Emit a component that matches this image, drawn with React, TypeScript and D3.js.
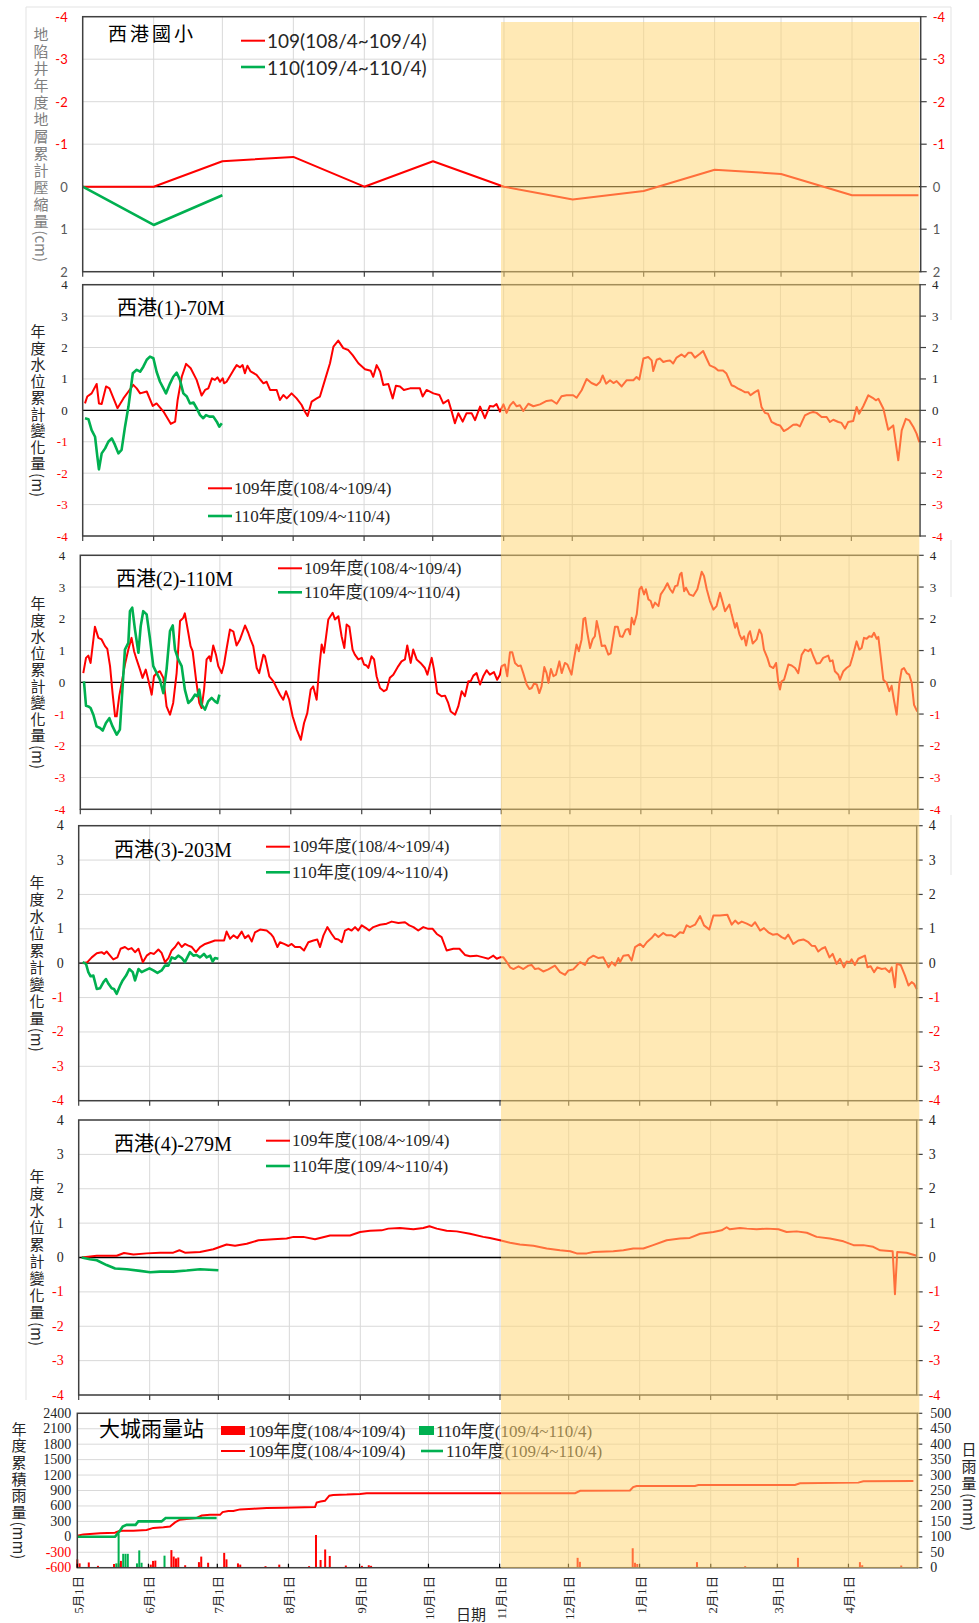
import React from "react";
import * as d3 from "d3";

// ---- data (day = days since 2019-05-01) ----
const monthLabels = ["5月1日", "6月1日", "7月1日", "8月1日", "9月1日", "10月1日", "11月1日", "12月1日", "1月1日", "2月1日", "3月1日", "4月1日"];
const legend109 = "109年度(108/4~109/4)";
const legend110 = "110年度(109/4~110/4)";

const p1Red = [[0, 0], [31, 0], [61, -0.6], [92, -0.7], [123, 0], [153, -0.6], [184, 0], [214, 0.3], [245, 0.1], [276, -0.4], [305, -0.3], [336, 0.2], [365, 0.2]];
const p1Green = [[0, 0], [31, 0.9], [61, 0.2]];

const m70Red = [[1, 0.22], [2, 0.44], [3.9, 0.54], [6.1, 0.84], [7.1, 0.22], [8.3, 0.2], [10.2, 0.76], [11.7, 0.7], [15.2, 0.07], [17.8, 0.38], [20, 0.6], [22.1, 0.81], [23.6, 0.7], [25.1, 0.54], [28, 0.6], [30.6, 0.14], [32.3, 0.22], [35.3, -0.04], [38.5, -0.43], [40.4, -0.36], [41.5, 0.33], [43.3, 1.07], [45.2, 1.48], [47.2, 1.34], [49.8, 0.97], [52, 0.47], [53.5, 0.65], [54.9, 0.7], [56.5, 1.02], [57.8, 0.97], [58.9, 1.05], [60, 0.91], [61.2, 1.02], [61.8, 0.86], [62.9, 0.91], [65.9, 1.28], [67.3, 1.44], [68.8, 1.37], [69.9, 1.44], [70.9, 1.18], [72, 1.42], [73.4, 1.24], [76, 1.13], [77.5, 0.99], [79, 0.86], [80.4, 0.91], [81.9, 0.65], [84.8, 0.65], [86.2, 0.33], [87.7, 0.49], [89.2, 0.38], [91.3, 0.54], [93.5, 0.38], [95.7, 0.17], [96.7, 0.01], [98.3, -0.18], [100.1, 0.28], [102.3, 0.38], [103.7, 0.44], [105.9, 0.97], [108.1, 1.5], [109.6, 2.03], [111.7, 2.22], [113.9, 1.98], [116.1, 1.92], [118, 1.76], [120.5, 1.5], [123.4, 1.31], [125.9, 1.26], [127, 1.07], [128.5, 1.44], [130, 1.24], [131.4, 0.81], [133.6, 0.84], [135.5, 0.38], [136.9, 0.78], [138.7, 0.76], [140.4, 0.65], [143.1, 0.7], [147.4, 0.7], [148.6, 0.44], [150.3, 0.65], [153.3, 0.54], [155.9, 0.49], [157.6, 0.22], [159.8, 0.33], [161.3, -0.04], [162.7, -0.41], [164.2, -0.09], [166.1, -0.36], [167.8, -0.09], [170, -0.09], [171.5, -0.31], [173.7, 0.12], [175.8, -0.25], [178, 0.14], [179.5, 0.12], [180.9, 0.2], [182.4, -0.04], [183.9, 0.19], [185.3, -0.08], [186.8, 0.16], [188.2, 0.27], [189.7, 0.13], [191.1, 0.16], [192.6, -0.02], [194.8, 0.21], [197, 0.13], [199.9, 0.19], [202.8, 0.3], [205, 0.32], [207.2, 0.21], [209.3, 0.45], [211.5, 0.48], [214.4, 0.48], [215.9, 0.4], [218.1, 0.64], [220.3, 1.0], [222.4, 0.87], [224.6, 0.8], [226.1, 0.9], [227.3, 1.11], [228.8, 0.85], [230.5, 0.96], [232, 0.87], [233.4, 0.93], [235.6, 0.76], [237.8, 0.96], [240.7, 0.96], [242.1, 1.06], [243.3, 0.98], [245.1, 1.65], [247.2, 1.7], [248.7, 1.59], [249.4, 1.25], [250.9, 1.61], [252.3, 1.65], [253.8, 1.54], [255.2, 1.57], [256.7, 1.59], [258.1, 1.49], [259.6, 1.68], [261.8, 1.78], [263.2, 1.7], [264.7, 1.83], [266.1, 1.83], [267.6, 1.68], [269.8, 1.8], [271.2, 1.89], [272.7, 1.65], [274.1, 1.43], [276.3, 1.36], [277.8, 1.27], [279.9, 1.27], [281.4, 1.17], [283.6, 0.8], [285, 0.76], [286.5, 0.69], [288, 0.64], [289.4, 0.58], [290.9, 0.58], [291.9, 0.48], [293.8, 0.58], [295.3, 0.64], [296.7, 0.11], [298.2, -0.08], [299.6, -0.11], [301.1, -0.37], [303.3, -0.45], [304.8, -0.48], [306.5, -0.66], [308.4, -0.58], [310.6, -0.46], [312, -0.45], [313.5, -0.51], [315.7, -0.16], [317.9, -0.08], [319.3, -0.05], [320.8, -0.08], [323, -0.21], [325.2, -0.21], [326.6, -0.37], [328.1, -0.3], [330.3, -0.37], [331.7, -0.4], [333.2, -0.58], [334.6, -0.37], [336.8, -0.34], [338.3, 0.11], [339.4, -0.11], [341.2, 0.13], [343.4, 0.48], [345.3, 0.4], [346.7, 0.32], [347.8, 0.37], [350, 0.05], [352.1, -0.62], [354.3, -0.48], [356.5, -1.59], [358, -0.64], [359.8, -0.27], [361.3, -0.32], [363.1, -0.53], [364.5, -0.74], [365.7, -1.01]];
const m70Green = [[1, -0.25], [2.5, -0.28], [3.9, -0.63], [5.4, -0.84], [6.4, -1.47], [7.1, -1.88], [8.3, -1.37], [9.8, -1.21], [11.2, -1.0], [12.7, -0.89], [14.1, -1.1], [15.6, -1.37], [17, -1.26], [18.5, -0.52], [20, 0.12], [21.9, 1.18], [23.6, 1.29], [25.1, 1.23], [26.5, 1.39], [28, 1.61], [29.4, 1.71], [30.9, 1.66], [32.3, 1.23], [33.8, 0.91], [35.3, 0.7], [36.4, 0.54], [38.2, 0.86], [39.6, 1.07], [41.1, 1.2], [42.5, 0.97], [44, 0.54], [45.5, 0.44], [46.9, 0.22], [48.4, 0.25], [49.8, 0.07], [51.3, -0.15], [52.7, -0.25], [53.9, -0.15], [55.4, -0.2], [57.1, -0.2], [58.6, -0.36], [59.7, -0.52], [60.8, -0.41]];

const m110Red = [[1.3, 0.29], [2.5, 0.77], [3.5, 0.84], [4.5, 0.61], [6.4, 1.75], [7.9, 1.4], [9.3, 1.35], [10.8, 1.14], [11.8, 1.05], [13, 0.51], [14.1, -0.34], [15.2, -1.07], [15.9, -1.07], [17, -0.44], [18.1, -0.02], [19.5, 0.56], [21, 1.03], [22.4, 1.4], [23.5, 0.98], [24.6, 0.72], [26.1, 0.4], [27.2, 0.14], [28.6, 0.4], [29.7, 0.08], [31.2, -0.39], [32.2, 0.19], [33.4, 0.29], [34.8, 0.35], [36.3, 0.14], [37.7, -0.76], [39.2, -1.02], [40.6, -0.65], [42.1, 0.29], [43.6, 1.93], [45, 2.03], [45.7, 2.17], [47.2, 1.56], [48.2, 1.14], [49.1, 0.98], [50.6, 0.08], [52, -0.65], [53, -0.81], [54.1, -0.23], [55.2, 0.72], [56.4, 0.82], [57, 0.66], [58.1, 1.16], [59.3, 0.87], [60.3, 0.51], [61.8, 0.29], [62.8, 0.56], [64, 1.08], [65.4, 1.66], [66.9, 1.6], [68.3, 1.16], [69.8, 1.35], [72, 1.79], [73.4, 1.56], [74.4, 1.35], [75.6, 1.14], [77.1, 0.45], [78.2, 0.29], [80, 0.87], [80.7, 0.82], [82.6, 0.19], [84.4, 0.03], [85.8, -0.18], [87.3, -0.39], [88.7, -0.55], [89.9, -0.28], [91.3, -0.55], [92.8, -1.07], [94.6, -1.49], [96.4, -1.81], [97.8, -1.28], [99.2, -0.97], [100.7, -0.23], [101.8, -0.13], [103.3, -0.55], [104.3, 0.35], [105.5, 1.19], [106.5, 0.93], [108.4, 1.98], [110.3, 2.19], [111.3, 1.98], [112.8, 2.08], [114.2, 1.45], [115.4, 1.08], [116.4, 1.82], [117.6, 1.75], [119, 1.03], [120, 0.87], [121.5, 0.72], [123, 0.77], [124, 0.56], [125.1, 0.53], [125.9, 0.45], [127.3, 0.82], [128.4, 0.72], [129.5, 0.19], [131, -0.18], [132.7, -0.28], [133.9, -0.23], [135.3, 0.14], [136.8, 0.24], [139, 0.51], [140.4, 0.66], [141.9, 0.72], [142.9, 1.16], [144.4, 0.61], [145.5, 1.03], [147, 0.72], [148.7, 0.61], [150.6, 0.45], [151.7, 0.24], [153.6, 0.77], [154.6, 0.4], [156, -0.34], [157.9, -0.44], [159.4, -0.42], [160.8, -0.65], [161.9, -0.92], [163.8, -1.02], [165.2, -0.76], [166.7, -0.28], [168.1, -0.44], [169.6, 0.03], [170.6, 0.03], [171.8, 0.21], [173.2, 0.29], [174.7, -0.07], [176.1, 0.19], [177.6, 0.38], [179, 0.24], [180.8, 0.32], [182.2, 0.08], [183.4, 0.24], [184.2, 0.51], [185.6, 0.56], [186.6, 0.19], [187.8, 0.95], [188.8, 0.95], [190, 0.61], [191.4, 0.51], [192.5, 0.53], [193.6, 0.29], [195.1, -0.07], [196.3, -0.21], [197.3, -0.18], [198.3, -0.04], [199.5, -0.07], [200.6, -0.34], [201.6, -0.13], [202.8, 0.48], [203.8, 0.29], [204.6, -0.02], [205.7, 0.42], [206.8, 0.19], [207.9, 0.24], [209.4, 0.66], [210.4, 0.29], [211.8, 0.61], [212.9, 0.56], [214.7, 0.24], [215.5, 0.61], [216.9, 1.19], [217.9, 0.98], [219.1, 1.35], [219.9, 2.0], [220.7, 2.03], [221.6, 1.56], [222.8, 1.08], [223.9, 1.35], [224.9, 1.45], [225.7, 1.93], [226.7, 1.61], [227.9, 1.14], [229.3, 1.16], [230.8, 0.87], [231.8, 0.91], [233.7, 1.75], [234.9, 1.75], [235.9, 1.45], [237, 1.43], [238.4, 1.66], [239.5, 1.68], [240.3, 1.51], [241, 2.03], [242, 1.82], [243.2, 2.14], [244.4, 2.93], [245.3, 3.01], [246.4, 2.77], [247.2, 2.93], [248.3, 2.61], [249.3, 2.56], [250.2, 2.35], [251.2, 2.51], [252.7, 2.4], [253.7, 2.77], [255.2, 2.93], [256.6, 3.12], [257.8, 2.93], [258.9, 2.82], [260, 3.03], [261, 3.05], [262.1, 3.4], [262.8, 3.45], [263.9, 2.87], [264.7, 2.98], [266.2, 2.77], [267.9, 2.72], [269.7, 2.93], [271.6, 3.48], [272.6, 3.35], [273.8, 2.93], [275.2, 2.56], [276.7, 2.29], [278.1, 2.4], [279.6, 2.82], [280.8, 2.51], [281.8, 2.24], [283.7, 2.45], [284.7, 2.14], [286.2, 1.72], [286.9, 1.87], [288.1, 1.51], [289.1, 1.35], [290.1, 1.45], [291, 1.16], [292, 1.51], [292.7, 1.61], [293.9, 1.22], [295.6, 1.35], [296.8, 1.66], [297.8, 1.51], [298.8, 1.03], [300.3, 0.77], [301.4, 0.51], [302.9, 0.45], [304.1, 0.61], [305.1, -0.02], [305.8, -0.23], [306.5, 0.03], [307.6, 0.08], [309.5, 0.56], [310.9, 0.53], [312.4, 0.45], [313.8, 0.29], [315.3, 0.87], [316.7, 1.03], [318.2, 0.98], [319.2, 1.05], [320.4, 0.82], [321.8, 0.59], [323.3, 0.61], [324.7, 0.77], [326.9, 0.84], [327.7, 0.66], [328.8, 0.69], [329.8, 0.35], [331.3, 0.24], [332, 0.08], [333.5, 0.35], [334.9, 0.45], [336.4, 0.53], [337.6, 0.82], [339.3, 1.29], [340.5, 1.03], [341.5, 1.08], [342.5, 1.4], [343.7, 1.37], [344.8, 1.45], [345.9, 1.43], [346.9, 1.56], [348.1, 1.37], [348.8, 1.43], [349.9, 0.77], [351, 0.08], [352.4, -0.02], [353.6, -0.28], [354.6, -0.11], [355.6, -0.55], [356.8, -1.02], [358, -0.02], [359, 0.4], [360, 0.45], [361.2, 0.29], [362.3, 0.24], [363.4, -0.02], [364.4, -0.71], [365.8, -0.92]];
const m110Green = [[1.6, 0.03], [2.5, -0.74], [3.5, -0.76], [4.5, -0.81], [5.7, -1.02], [7.1, -1.39], [8.6, -1.44], [9.8, -1.52], [11.2, -1.28], [12.7, -1.13], [14.1, -1.39], [15.9, -1.65], [17.3, -1.49], [18.5, -0.13], [19.5, 1.03], [21, 1.24], [21.7, 2.24], [22.7, 2.35], [23.9, 1.66], [25.4, 0.93], [26.4, 1.77], [27.5, 2.24], [29, 2.14], [30.4, 1.4], [31.9, 0.51], [33.4, 0.29], [34.8, 0.08], [36.3, -0.34], [37.7, 0.4], [39.2, 1.61], [40.4, 1.79], [41.4, 1.03], [42.8, 0.72], [44.3, 0.51], [45.7, -0.23], [47.2, -0.65], [48.7, -0.55], [50.1, -0.39], [51.1, -0.44], [52, -0.23], [53, -0.71], [54.5, -0.86], [55.9, -0.6], [57.4, -0.49], [58.9, -0.6], [59.9, -0.65], [60.8, -0.39]];

const m203Red = [[1.7, 0], [3.8, 0.03], [5.7, 0.17], [7.9, 0.29], [10, 0.32], [11.1, 0.27], [12.2, 0.34], [13.7, 0.22], [15.1, 0.11], [16.9, 0.17], [18.3, 0.42], [20.2, 0.47], [21.7, 0.4], [23.1, 0.44], [24.6, 0.32], [26.1, 0.42], [28, 0.03], [29.7, 0.22], [31.4, 0.3], [32.9, 0.27], [34.8, 0.4], [36.2, 0.3], [37.7, 0.03], [39.2, 0.15], [40.6, 0.37], [42.1, 0.47], [43.5, 0.61], [45, 0.47], [46.4, 0.56], [47.9, 0.51], [49.4, 0.47], [51.2, 0.32], [53, 0.47], [55.2, 0.56], [57.4, 0.61], [59.5, 0.66], [61.7, 0.66], [63.5, 0.66], [64.6, 0.92], [66.1, 0.71], [67.6, 0.81], [69.3, 0.73], [71.2, 0.92], [72.6, 0.73], [74.1, 0.81], [75.6, 0.63], [77, 0.9], [79.2, 0.98], [82.1, 0.95], [83.9, 0.85], [85, 0.76], [86.8, 0.47], [87.9, 0.61], [89.7, 0.56], [91.6, 0.5], [93, 0.56], [94.5, 0.47], [96.7, 0.47], [98.4, 0.37], [100.3, 0.61], [102.5, 0.66], [104.2, 0.69], [105.4, 0.47], [106.9, 0.81], [108.6, 1.05], [110.5, 0.85], [112, 0.71], [113.4, 0.69], [114.9, 0.61], [116.3, 0.95], [117.8, 1.0], [119.2, 0.95], [120.7, 1.05], [122.1, 0.95], [123.6, 1.1], [125.5, 1.02], [126.9, 0.95], [128.7, 1.05], [131.6, 1.12], [134.5, 1.15], [136.7, 1.21], [139.6, 1.17], [142.5, 1.19], [144.4, 1.1], [146.2, 1.05], [148.3, 0.95], [150.5, 1.05], [152.7, 1.0], [154.6, 1.0], [156.4, 0.85], [158.5, 0.76], [160.7, 0.37], [163.6, 0.42], [166.3, 0.42], [168.7, 0.24], [170.9, 0.2], [173.8, 0.22], [176.7, 0.17], [178.9, 0.13], [181.1, 0.22], [182.6, 0.13], [184, 0.17], [185.5, 0.17], [187, 0.03], [188.4, -0.12], [189.9, -0.17], [192.1, -0.09], [194.2, -0.17], [196.4, -0.07], [197.8, -0.05], [199.3, -0.17], [200.8, -0.15], [202.9, -0.24], [205.1, -0.18], [208, -0.07], [210.2, -0.26], [212.4, -0.34], [213.9, -0.21], [216, -0.18], [219, 0.03], [221.1, -0.05], [222.6, 0.13], [224.8, 0.22], [227, 0.15], [229.1, 0.17], [231.4, -0.12], [232.8, 0.03], [234.3, -0.07], [235.7, 0.15], [236.4, 0.03], [237.9, 0.22], [240.1, 0.24], [241.5, 0.08], [243, 0.47], [245.2, 0.56], [246.6, 0.47], [248.1, 0.61], [250.2, 0.73], [251.7, 0.85], [253.2, 0.76], [255.3, 0.88], [256.8, 0.81], [259, 0.81], [260.4, 0.76], [262.6, 0.9], [264.1, 0.88], [265.5, 1.1], [267, 1.05], [269.2, 1.12], [271.4, 1.37], [273.1, 1.1], [275.4, 0.98], [277.2, 1.39], [280.1, 1.39], [283.3, 1.41], [285.2, 1.12], [286.7, 1.24], [288.1, 1.15], [289.6, 1.21], [291.8, 1.15], [293.9, 1.08], [295.4, 1.19], [297.6, 0.95], [299.3, 1.02], [301.2, 0.9], [303.1, 0.83], [305.1, 0.85], [307, 0.76], [308.5, 0.71], [309.9, 0.83], [312.1, 0.56], [314.3, 0.66], [316.5, 0.69], [318.7, 0.61], [320.1, 0.51], [321.6, 0.5], [323, 0.34], [324.5, 0.42], [326, 0.47], [327.9, 0.17], [329.3, 0.27], [331, -0.02], [332.5, 0.13], [334.2, -0.12], [335.4, 0.05], [336.8, 0.03], [337.6, 0.11], [339, -0.05], [340.5, 0.13], [343.4, 0.22], [344.5, -0.12], [345.9, -0.09], [347.4, -0.26], [348.8, -0.12], [350.7, -0.17], [352.2, -0.15], [354.1, -0.26], [355.1, -0.12], [356.5, -0.7], [357.3, -0.02], [359, -0.05], [360.9, -0.36], [362.4, -0.65], [363.8, -0.55], [364.8, -0.6], [366, -0.75]];
const m203Green = [[1.7, 0.03], [3.2, -0.02], [4.2, -0.26], [5.2, -0.38], [6.4, -0.36], [7.9, -0.75], [9.3, -0.73], [10.8, -0.55], [11.9, -0.46], [13, -0.6], [14.4, -0.73], [15.4, -0.75], [16.6, -0.89], [18.1, -0.65], [19.2, -0.5], [20.7, -0.36], [22.1, -0.17], [23.6, -0.26], [24.6, -0.5], [26.1, -0.17], [27.5, -0.26], [29, -0.21], [30.9, -0.15], [32.6, -0.21], [34.4, -0.28], [36.2, -0.21], [37.7, -0.07], [39.2, -0.07], [40.6, 0.17], [42.1, 0.13], [43.5, 0.22], [45, 0.15], [46.4, 0.03], [48.6, 0.32], [50.1, 0.22], [51.5, 0.24], [53, 0.17], [54.7, 0.27], [55.9, 0.17], [57.4, 0.22], [58.5, 0.05], [59.5, 0.15], [61, 0.13]];

const m279Red = [[1.3, 0], [7.9, 0.05], [16.6, 0.05], [19.8, 0.13], [23.9, 0.09], [29.7, 0.12], [35.5, 0.14], [41.3, 0.14], [44, 0.21], [46.4, 0.14], [53, 0.16], [58.8, 0.24], [64.6, 0.38], [68.3, 0.34], [73.4, 0.4], [78.5, 0.5], [85, 0.53], [90.8, 0.55], [93.8, 0.6], [98.1, 0.6], [103.2, 0.53], [109.8, 0.64], [118.5, 0.64], [122.9, 0.74], [127.2, 0.78], [132.3, 0.79], [135.2, 0.84], [140.3, 0.86], [146.2, 0.82], [150.5, 0.86], [153.2, 0.91], [156.4, 0.84], [160.7, 0.78], [165.1, 0.76], [170.9, 0.69], [176.7, 0.6], [179.6, 0.57], [184, 0.5], [188.4, 0.43], [192.7, 0.38], [198.6, 0.34], [204.4, 0.26], [210.2, 0.21], [214.6, 0.18], [217.5, 0.12], [221.9, 0.12], [224.8, 0.16], [233.5, 0.18], [237.9, 0.21], [242.2, 0.26], [246.6, 0.26], [250.9, 0.36], [256.8, 0.5], [262.6, 0.55], [266.9, 0.57], [271.4, 0.69], [277.2, 0.74], [280.8, 0.79], [283, 0.88], [284.4, 0.82], [288.8, 0.86], [291.8, 0.84], [296.1, 0.82], [300.5, 0.84], [305.6, 0.82], [309.2, 0.74], [313.6, 0.76], [318, 0.72], [322.3, 0.6], [328.1, 0.55], [334, 0.47], [338.4, 0.36], [342.7, 0.36], [347, 0.31], [350, 0.21], [355.5, 0.18], [356.5, -1.07], [357.5, 0.16], [361.6, 0.14], [366, 0.05]];
const m279Green = [[1.3, 0], [4.9, -0.05], [7.9, -0.08], [12.2, -0.22], [15.9, -0.32], [21, -0.34], [26.8, -0.39], [31.2, -0.43], [35.5, -0.41], [41.3, -0.41], [47.2, -0.38], [53, -0.34], [61, -0.37]];

const rainCum109 = [[0, 20], [2.6, 47], [9.9, 67], [16.4, 80], [18.3, 113], [20, 120], [24.4, 120], [30.2, 133], [33.1, 173], [37.5, 187], [40.4, 200], [42.6, 280], [44.7, 333], [47.6, 347], [52, 367], [54.2, 413], [57.8, 427], [62.2, 427], [63.3, 480], [65.8, 500], [68, 500], [70.9, 533], [76.7, 547], [82.5, 560], [89.8, 567], [103.6, 580], [104.3, 667], [106, 687], [107.9, 700], [109.8, 800], [111.5, 813], [117.4, 820], [123.2, 833], [126.1, 847], [216.9, 847], [219.1, 893], [240.8, 900], [242.2, 967], [243.7, 987], [269.1, 987], [270.6, 1007], [312.7, 1007], [314.9, 1040], [340.3, 1053], [342.5, 1080], [364.3, 1087]];
const rainCum110 = [[0, 0], [16.4, 0], [18.3, 100], [19.8, 200], [21.5, 233], [25.4, 233], [26.6, 300], [36.7, 300], [38.5, 367], [60.7, 367]];
const rainDaily109 = [[0, 27], [1, 14], [5, 17], [9, 6], [16, 12], [18, 14], [19, 22], [32, 10], [33, 22], [34, 23], [41, 57], [42, 36], [43, 30], [44, 33], [47, 8], [53, 18], [54, 36], [57, 16], [64, 48], [65, 27], [70, 14], [71, 10], [82, 5], [88, 10], [101, 5], [104, 106], [106, 25], [108, 59], [110, 38], [117, 7], [124, 6], [127, 8], [128, 6], [218, 32], [219, 19], [242, 63], [243, 16], [244, 12], [270, 18], [291, 5], [314, 32], [341, 18], [342, 8], [359, 7]];
const rainDaily110 = [[17, 14], [18, 110], [20, 45], [21, 45], [22, 45], [26, 14], [27, 56], [28, 16], [38, 39]];

// ---- layout ----
const START = new Date(2019, 4, 1);
const END = new Date(2020, 4, 1);
const toDate = (d: number) => new Date(START.getTime() + d * 864e5);
const months = d3.timeMonth.range(START, END);

const SERIF = "'Liberation Serif','Noto Sans CJK TC',serif";
const SANS = "Lato,'Noto Sans CJK TC',sans-serif";
const CJK = "'Noto Sans CJK TC',sans-serif";
const RED = "#FF0000";
const GREEN = "#00B050";
const GRID = "#d9d9d9";
const AXIS = "#404040";

const panels = [
  { top: 16.7, bottom: 271.7, left: 82.7, right: 920.7, yTop: -4, yBottom: 2, red: p1Red, green: p1Green,
    title: "西港國小", titleX: 108, titleY: 41, titleFont: CJK, titleSize: 19, titleSpacing: 3,
    legendX: 241, legendY: [40.7, 67], legendFont: SANS, legendSize: 19, legend: ["109(108/4~109/4)", "110(109/4~110/4)"],
    tickFont: SANS, tickSize: 13, posColor: "#595959",
    vt: { x: 41, text: "地陷井年度地層累計壓縮量", tail: "(cm)", spacing: 17, size: 15, color: "#7f7f7f" } },
  { top: 284.7, bottom: 536, left: 82.7, right: 920, yTop: 4, yBottom: -4, red: m70Red, green: m70Green,
    title: "西港(1)-70M", titleX: 117, titleY: 315, titleFont: SERIF, titleSize: 20, titleSpacing: 0,
    legendX: 208, legendY: [488.3, 516], legendFont: SERIF, legendSize: 17, legend: [legend109, legend110],
    tickFont: SERIF, tickSize: 13, posColor: "#262626",
    vt: { x: 38, text: "年度水位累計變化量", tail: "(m)", spacing: 16.5, size: 15, color: "#262626" } },
  { top: 555.3, bottom: 809.3, left: 80.3, right: 917.7, yTop: 4, yBottom: -4, red: m110Red, green: m110Green,
    title: "西港(2)-110M", titleX: 116, titleY: 586, titleFont: SERIF, titleSize: 20, titleSpacing: 0,
    legendX: 278, legendY: [568.3, 592.3], legendFont: SERIF, legendSize: 17, legend: [legend109, legend110],
    tickFont: SERIF, tickSize: 13, posColor: "#262626",
    vt: { x: 38, text: "年度水位累計變化量", tail: "(m)", spacing: 16.5, size: 15, color: "#262626" } },
  { top: 825.7, bottom: 1100.7, left: 78.7, right: 916.7, yTop: 4, yBottom: -4, red: m203Red, green: m203Green,
    title: "西港(3)-203M", titleX: 114, titleY: 857, titleFont: SERIF, titleSize: 20, titleSpacing: 0,
    legendX: 266, legendY: [846.7, 872.3], legendFont: SERIF, legendSize: 17, legend: [legend109, legend110],
    tickFont: SERIF, tickSize: 14, posColor: "#262626",
    vt: { x: 37, text: "年度水位累計變化量", tail: "(m)", spacing: 17, size: 15, color: "#262626" } },
  { top: 1120, bottom: 1395, left: 78.7, right: 916.7, yTop: 4, yBottom: -4, red: m279Red, green: m279Green,
    title: "西港(4)-279M", titleX: 114, titleY: 1151, titleFont: SERIF, titleSize: 20, titleSpacing: 0,
    legendX: 266, legendY: [1140.7, 1166], legendFont: SERIF, legendSize: 17, legend: [legend109, legend110],
    tickFont: SERIF, tickSize: 14, posColor: "#262626",
    vt: { x: 37, text: "年度水位累計變化量", tail: "(m)", spacing: 17, size: 15, color: "#262626" } },
];

const rain = { top: 1413.3, bottom: 1567.7, left: 77.3, right: 917.3 };

// vertical axis title: one text in vertical writing mode (CJK upright, latin sideways)
function VTitle({ x, cy, text, tail, spacing, size, color, font }: any) {
  return (
    <text
      x={x}
      y={cy}
      textAnchor="middle"
      fill={color}
      fontFamily={font}
      fontSize={size}
      style={{ writingMode: "vertical-rl", textOrientation: "mixed" } as any}
    >
      <tspan letterSpacing={spacing - size}>{text}</tspan>
      <tspan letterSpacing={0}>{tail}</tspan>
    </text>
  );
}

function Panel({ c }: any) {
  const x = d3.scaleTime().domain([START, END]).range([c.left, c.right]);
  const y = d3.scaleLinear().domain([c.yTop, c.yBottom]).range([c.top, c.bottom]);
  const ticks = d3.range(Math.min(c.yTop, c.yBottom), Math.max(c.yTop, c.yBottom) + 1);
  const line = d3.line<any>().x((d) => x(toDate(d[0]))).y((d) => y(d[1]));
  const lblLeft = c.left - 15;
  const lblRight = c.right + 12;
  return (
    <g>
      {ticks.map((t) => (
        <line key={"h" + t} x1={c.left} x2={c.right} y1={y(t)} y2={y(t)} stroke={GRID} strokeWidth={1} />
      ))}
      {months.slice(1).map((m, i) => (
        <line key={"v" + i} x1={x(m)} x2={x(m)} y1={c.top} y2={c.bottom} stroke={GRID} strokeWidth={1} />
      ))}
      <line x1={c.left} x2={c.right} y1={y(0)} y2={y(0)} stroke="#000" strokeWidth={1.3} />
      <path d={line(c.red) || ""} fill="none" stroke={RED} strokeWidth={2} strokeLinejoin="round" />
      <path d={line(c.green) || ""} fill="none" stroke={GREEN} strokeWidth={2.6} strokeLinejoin="round" />
      <rect x={c.left} y={c.top} width={c.right - c.left} height={c.bottom - c.top} fill="none" stroke={AXIS} strokeWidth={1.5} />
      {months.map((m, i) => (
        <line key={"t" + i} x1={x(m)} x2={x(m)} y1={c.bottom} y2={c.bottom + 5} stroke={AXIS} strokeWidth={1.2} />
      ))}
      {ticks.map((t) => (
        <g key={"l" + t} fontFamily={c.tickFont} fontSize={c.tickSize} fill={t < 0 ? RED : c.posColor}>
          <line x1={c.right} x2={c.right + 6} y1={y(t)} y2={y(t)} stroke={AXIS} strokeWidth={1.2} />
          <text x={lblLeft} y={y(t)} textAnchor="end" dominantBaseline="central">{t}</text>
          <text x={lblRight} y={y(t)} dominantBaseline="central">{t}</text>
        </g>
      ))}
      <text x={c.titleX} y={c.titleY} fontFamily={c.titleFont} fontSize={c.titleSize} letterSpacing={c.titleSpacing} fill="#000">{c.title}</text>
      {c.legend.map((txt: string, i: number) => (
        <g key={"lg" + i}>
          <line x1={c.legendX} x2={c.legendX + 24} y1={c.legendY[i]} y2={c.legendY[i]} stroke={i === 0 ? RED : GREEN} strokeWidth={i === 0 ? 2 : 2.6} />
          <text x={c.legendX + 26} y={c.legendY[i]} dominantBaseline="central" fontFamily={c.legendFont} fontSize={c.legendSize} fill="#262626">{txt}</text>
        </g>
      ))}
      <VTitle {...c.vt} cy={(c.top + c.bottom) / 2} font={CJK} />
    </g>
  );
}

function RainPanel() {
  const c = rain;
  const x = d3.scaleTime().domain([START, END]).range([c.left, c.right]);
  const yL = d3.scaleLinear().domain([-600, 2400]).range([c.bottom, c.top]);
  const yR = d3.scaleLinear().domain([0, 500]).range([c.bottom, c.top]);
  const leftTicks = d3.range(-600, 2401, 300);
  const rightTicks = d3.range(0, 501, 50);
  const line = d3.line<any>().x((d) => x(toDate(d[0]))).y((d) => yL(d[1]));
  return (
    <g>
      {leftTicks.map((t) => (
        <line key={"h" + t} x1={c.left} x2={c.right} y1={yL(t)} y2={yL(t)} stroke={GRID} strokeWidth={1} />
      ))}
      {months.slice(1).map((m, i) => (
        <line key={"v" + i} x1={x(m)} x2={x(m)} y1={c.top} y2={c.bottom} stroke={GRID} strokeWidth={1} />
      ))}
      {rainDaily109.map((d, i) => (
        <rect key={"r" + i} x={x(toDate(d[0])) - 1} y={yR(d[1])} width={2} height={c.bottom - yR(d[1])} fill={RED} />
      ))}
      {rainDaily110.map((d, i) => (
        <rect key={"g" + i} x={x(toDate(d[0])) - 1} y={yR(d[1])} width={2} height={c.bottom - yR(d[1])} fill={GREEN} />
      ))}
      <path d={line(rainCum109) || ""} fill="none" stroke={RED} strokeWidth={2} />
      <path d={line(rainCum110) || ""} fill="none" stroke={GREEN} strokeWidth={2.6} />
      <rect x={c.left} y={c.top} width={c.right - c.left} height={c.bottom - c.top} fill="none" stroke={AXIS} strokeWidth={1.5} />
      {months.map((m, i) => (
        <line key={"t" + i} x1={x(m)} x2={x(m)} y1={c.bottom} y2={c.bottom - 4} stroke="#000" strokeWidth={1.2} />
      ))}
      {leftTicks.map((t) => (
        <text key={"ll" + t} x={c.left - 6} y={yL(t)} textAnchor="end" dominantBaseline="central" fontFamily={SERIF} fontSize={14} fill={t < 0 ? RED : "#262626"}>{t}</text>
      ))}
      {rightTicks.map((t) => (
        <g key={"rl" + t}>
          <line x1={c.right} x2={c.right + 5} y1={yR(t)} y2={yR(t)} stroke={AXIS} strokeWidth={1.2} />
          <text x={c.right + 13} y={yR(t)} dominantBaseline="central" fontFamily={SERIF} fontSize={14} fill="#262626">{t}</text>
        </g>
      ))}
      <text x={99} y={1436} fontFamily={CJK} fontSize={21} fill="#000">大城雨量站</text>
      <g fontFamily={SERIF} fontSize={17} fill="#262626">
        <rect x={221} y={1426} width={24} height={9} fill={RED} />
        <text x={248} y={1431} dominantBaseline="central">{legend109}</text>
        <rect x={419} y={1426} width={15} height={9} fill={GREEN} />
        <text x={436} y={1431} dominantBaseline="central">{legend110}</text>
        <line x1={221} x2={245} y1={1451} y2={1451} stroke={RED} strokeWidth={2} />
        <text x={248} y={1451} dominantBaseline="central">{legend109}</text>
        <line x1={421} x2={443} y1={1451} y2={1451} stroke={GREEN} strokeWidth={2.6} />
        <text x={446} y={1451} dominantBaseline="central">{legend110}</text>
      </g>
      <VTitle x={19} cy={(c.top + c.bottom) / 2} text="年度累積雨量" tail="(mm)" spacing={16.7} size={15} color="#262626" font={CJK} />
      <VTitle x={969} cy={(c.top + c.bottom) / 2 - 4} text="日雨量" tail="(mm)" spacing={17} size={15} color="#262626" font={CJK} />
      {months.map((m, i) => (
        <text key={"xl" + i} transform={`translate(${x(m) + 2},1576) rotate(-90)`} textAnchor="end" dominantBaseline="central" fontFamily={SERIF} fontSize={12.5} fill="#262626">{monthLabels[i]}</text>
      ))}
      <text x={456} y={1620} fontFamily={CJK} fontSize={15} fill="#262626">日期</text>
    </g>
  );
}

export default function App() {
  return (
    <svg width={979} height={1623} style={{ position: "absolute", left: 0, top: 0, background: "#fff" }}>
      <rect x={0} y={0} width={979} height={1623} fill="#fff" />
      <g stroke="#e3e3e3" strokeWidth={1}>
        <line x1={26} y1={7} x2={951} y2={7} />
        <line x1={26} y1={7} x2={26} y2={1400} />
        <line x1={951} y1={7} x2={951} y2={320} />
        <line x1={951} y1={540} x2={951} y2={597} />
        <line x1={951} y1={815} x2={951} y2={875} />
      </g>
      {panels.map((c, i) => (
        <Panel key={i} c={c} />
      ))}
      <RainPanel />
      {/* highlighted period Nov-Apr */}
      <rect x={501} y={22} width={418.3} height={1546} fill="rgb(255,213,114)" opacity={0.52} />
    </svg>
  );
}
